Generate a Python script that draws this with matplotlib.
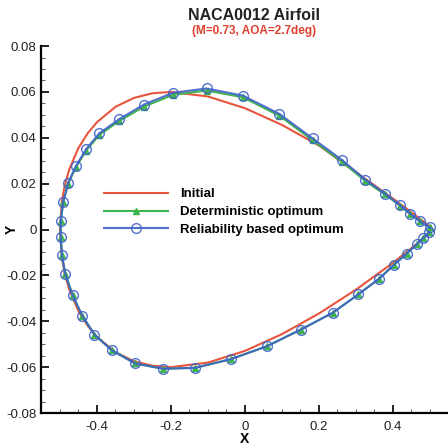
import matplotlib
matplotlib.use("Agg")
import matplotlib.pyplot as plt
from matplotlib.ticker import MultipleLocator, FormatStrFormatter

plt.rcParams['font.family'] = ['Liberation Sans', 'DejaVu Sans']

# initial NACA0012 contour: upper TE -> LE -> lower TE
x_init = [0.5, 0.45, 0.4, 0.3, 0.2, 0.1, 0.0, -0.1, -0.2, -0.25, -0.3, -0.35, -0.4,
          -0.425, -0.45, -0.475, -0.4875, -0.495, -0.5,
          -0.495, -0.4875, -0.475, -0.45, -0.425, -0.4, -0.35, -0.3, -0.25, -0.2,
          -0.1, 0.0, 0.1, 0.2, 0.3, 0.4, 0.45, 0.5]
y_init = [0.0013, 0.0075, 0.0135, 0.0250, 0.0366, 0.0456, 0.0529, 0.0580, 0.0600,
          0.0594, 0.0574, 0.0535, 0.0468, 0.0420, 0.0356, 0.0262, 0.0189, 0.0122, 0.0,
          -0.0122, -0.0189, -0.0262, -0.0356, -0.0420, -0.0468, -0.0535, -0.0574,
          -0.0594, -0.0600, -0.0580, -0.0529, -0.0456, -0.0366, -0.0262, -0.0145,
          -0.0081, -0.0013]

# optimised contours (same stations)
x_opt = [0.500, 0.473, 0.447, 0.419, 0.378, 0.325, 0.263, 0.183, 0.093, -0.006,
         -0.104, -0.195, -0.273, -0.341, -0.394, -0.430, -0.457, -0.478, -0.491,
         -0.498, -0.498, -0.495, -0.486, -0.466, -0.440, -0.407, -0.360, -0.297,
         -0.221, -0.135, -0.038, 0.059, 0.151, 0.237, 0.306, 0.363, 0.403, 0.437,
         0.464, 0.482, 0.498]
y_rel = [0.0009, 0.0036, 0.0068, 0.0106, 0.0157, 0.0218, 0.0302, 0.0397, 0.0504,
         0.0584, 0.0615, 0.0596, 0.0545, 0.0480, 0.0419, 0.0349, 0.0276, 0.0203,
         0.0122, 0.0039, -0.0031, -0.0109, -0.0192, -0.0286, -0.0375, -0.0458,
         -0.0526, -0.0584, -0.0607, -0.0603, -0.0565, -0.0509, -0.0436, -0.0363,
         -0.0283, -0.0214, -0.0153, -0.0105, -0.0065, -0.0036, -0.0012]
y_det = [0.0009, 0.0036, 0.0067, 0.0104, 0.0153, 0.0212, 0.0294, 0.0389, 0.0496,
         0.0577, 0.0606, 0.0587, 0.0536, 0.0472, 0.0412, 0.0343, 0.0271, 0.0200,
         0.0121, 0.0039, -0.0031, -0.0109, -0.0192, -0.0286, -0.0375, -0.0458,
         -0.0526, -0.0584, -0.0607, -0.0603, -0.0565, -0.0509, -0.0436, -0.0363,
         -0.0283, -0.0214, -0.0153, -0.0105, -0.0065, -0.0036, -0.0012]

labels = ['Initial', 'Deterministic optimum', 'Reliability based optimum']
red, green, blue = '#e8553e', '#3fb54e', '#3f62c8'

fig = plt.figure(figsize=(4.48, 4.47), dpi=100)
ax = fig.add_axes([0.0926, 0.076, 0.9085, 0.821])

ax.plot(x_init, y_init, color=red, lw=1.5, label=labels[0])
ax.plot(x_opt, y_det, color=green, lw=1.5, marker='^', ms=5,
        mfc=green, mec=green, label=labels[1])
ax.plot(x_opt, y_rel, color=blue, lw=1.5, marker='o', ms=7,
        mfc='none', mec=blue, mew=1.0, alpha=0.9, label=labels[2])

ax.set_xlim(-0.55, 0.55)
ax.set_ylim(-0.08, 0.08)
ax.xaxis.set_major_locator(MultipleLocator(0.2))
ax.xaxis.set_minor_locator(MultipleLocator(0.05))
ax.yaxis.set_major_locator(MultipleLocator(0.02))
ax.yaxis.set_minor_locator(MultipleLocator(0.005))
ax.xaxis.set_major_formatter(FormatStrFormatter('%g'))
ax.yaxis.set_major_formatter(FormatStrFormatter('%g'))

for s in ['top', 'right']:
    ax.spines[s].set_visible(False)
for s in ['left', 'bottom']:
    ax.spines[s].set_linewidth(1.6)
ax.tick_params(which='major', direction='in', length=6, width=1.4,
               labelsize=9.5, colors='#222222')
ax.tick_params(axis='x', which='major', pad=6)
ax.tick_params(which='minor', direction='in', length=3, width=0.8, color='#666666')

ax.set_xlabel('X', fontsize=10, fontweight='bold', labelpad=-1)
ax.set_ylabel('Y', fontsize=10, fontweight='bold')
ax.yaxis.set_label_coords(-0.055, 0.5)

fig.text(0.567, 0.966, 'NACA0012 Airfoil', ha='center', va='center',
         fontsize=11.5, fontweight='bold', color='#222222')
fig.text(0.567, 0.931, '(M=0.73, AOA=2.7deg)', ha='center', va='center',
         fontsize=8.5, fontweight='bold', color='#e04030')

ax.legend(loc='upper left', bbox_to_anchor=(0.125, 0.645), frameon=False,
          prop={'size': 9.5, 'weight': 'bold'}, handlelength=4.85,
          handletextpad=0.9, labelspacing=0.42, numpoints=1)

fig.savefig('out.png', dpi=100)
